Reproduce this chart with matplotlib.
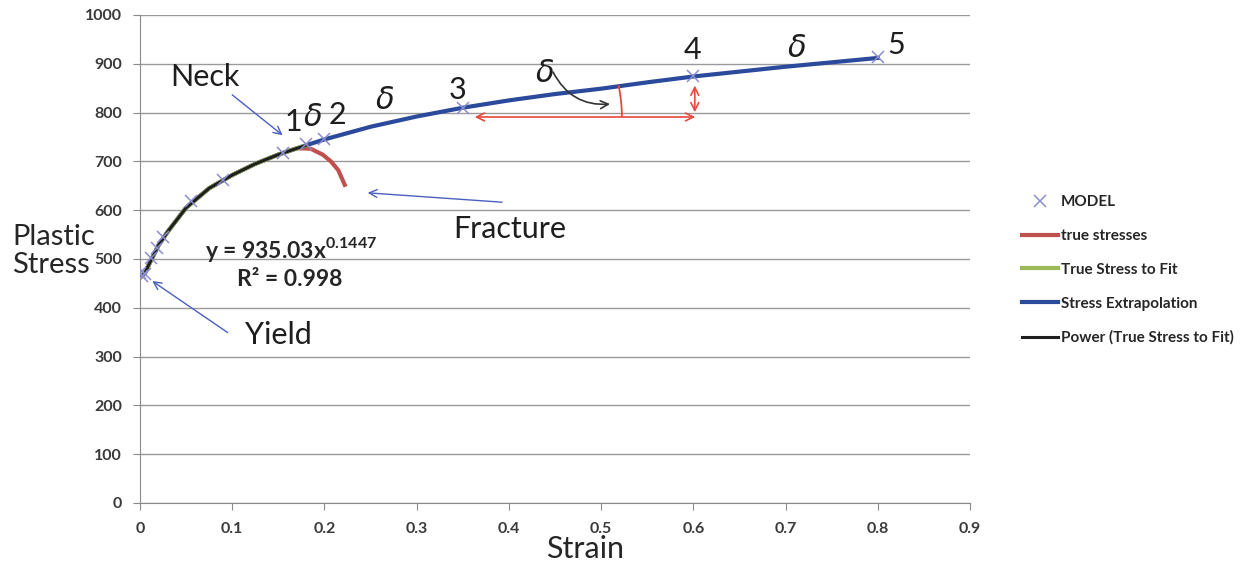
import matplotlib.pyplot as plt
from matplotlib.patches import Arc
from matplotlib.transforms import IdentityTransform

# values
model_strain = [0.0, 0.002, 0.005, 0.012, 0.018, 0.025, 0.055, 0.09, 0.155, 0.18, 0.2, 0.35, 0.6, 0.8]
model_stress = [472, 465, 470, 502, 522, 545, 618, 662, 717, 736, 746, 810, 874, 913]

true_strain = [0.001, 0.005, 0.01, 0.02, 0.03, 0.05, 0.075, 0.1, 0.125, 0.15, 0.17, 0.185, 0.198, 0.207, 0.215, 0.222]
true_stress = [463, 470, 490, 528, 556, 605, 645, 672, 695, 714, 727, 726, 714, 700, 682, 652]

fit_strain = [0.001, 0.005, 0.01, 0.02, 0.03, 0.05, 0.075, 0.1, 0.125, 0.15, 0.18]
fit_stress = [463, 470, 490, 528, 556, 605, 645, 672, 695, 714, 733]

extrap_strain = [0.0, 0.005, 0.01, 0.02, 0.03, 0.05, 0.075, 0.1, 0.125, 0.15, 0.18, 0.2, 0.25,
                 0.3, 0.35, 0.4, 0.45, 0.5, 0.55, 0.6, 0.65, 0.7, 0.75, 0.8]
extrap_stress = [465, 470, 490, 528, 556, 605, 645, 672, 695, 714, 733, 745, 771,
                 792, 810, 825, 838, 849, 862, 874, 884, 894, 903, 912]

power_strain = [0.002, 0.005, 0.01, 0.02, 0.03, 0.05, 0.075, 0.1, 0.125, 0.15, 0.18]
power_stress = [466, 470, 490, 528, 556, 605, 645, 672, 695, 714, 733]

x_ticks = [0, 0.1, 0.2, 0.3, 0.4, 0.5, 0.6, 0.7, 0.8, 0.9]
x_labels = ["0", "0.1", "0.2", "0.3", "0.4", "0.5", "0.6", "0.7", "0.8", "0.9"]
y_ticks = list(range(0, 1001, 100))

plt.rcParams['font.family'] = ['Lato', 'DejaVu Sans']
plt.rcParams['mathtext.fontset'] = 'custom'
plt.rcParams['mathtext.rm'] = 'Lato:bold'
plt.rcParams['mathtext.bf'] = 'Lato:bold'

fig = plt.figure(figsize=(12.53, 5.65), dpi=100)
ax = fig.add_axes([140 / 1253, 62 / 565, 830 / 1253, 488 / 565])

ax.plot(extrap_strain, extrap_stress, color='#2b4a9b', lw=3, zorder=3, label='Stress Extrapolation')
ax.plot(true_strain, true_stress, color='#c0504d', lw=3, zorder=2, label='true stresses')
ax.plot(fit_strain, fit_stress, color='#9bbb59', lw=3, zorder=4, label='True Stress to Fit')
ax.plot(power_strain, power_stress, color='#1e1e1e', lw=2.2, zorder=5, label='Power (True Stress to Fit)')
ax.plot(model_strain, model_stress, 'x', color='#8c8cd2', ms=9, mew=1.1, zorder=6, label='MODEL')

ax.set_xlim(0, 0.9)
ax.set_ylim(0, 1000)
ax.set_xticks(x_ticks)
ax.set_xticklabels(x_labels)
ax.set_yticks(y_ticks)
ax.yaxis.grid(True, color='#9a9a9a', lw=1)
ax.set_axisbelow(True)
for s in ['top', 'right']:
    ax.spines[s].set_visible(False)
ax.spines['left'].set_color('#8a8a8a')
ax.spines['bottom'].set_color('#8a8a8a')
ax.tick_params(axis='both', colors='#8a8a8a', labelcolor='#3a3a3a', labelsize=11.5, length=5)
ax.tick_params(axis='y', pad=8)
ax.tick_params(axis='x', pad=9)
for lab in ax.get_xticklabels() + ax.get_yticklabels():
    lab.set_fontweight('bold')
ax.set_xlabel('Strain', fontsize=22, color='#262626')
ax.xaxis.set_label_coords((585 - 140) / 830, -0.066)

fig.text(12 / 1253, 1 - 251 / 565, 'Plastic\nStress', fontsize=21, color='#262626',
         ha='left', va='center', linespacing=1.1)

# annotations
txt = dict(fontsize=22, color='#1e1e1e', ha='center', va='center')
dtxt = dict(fontsize=22, color='#1e1e1e', ha='center', va='center')
ax.text(0.0704, 873, 'Neck', **txt)
ax.text(0.166, 781, '1', **txt)
ax.text(0.1875, 791, r'$\delta$', **dtxt)
ax.text(0.2146, 795, '2', **txt)
ax.text(0.2656, 826, r'$\delta$', **dtxt)
ax.text(0.3447, 847, '3', **txt)
ax.text(0.439, 881, r'$\delta$', **dtxt)
ax.text(0.599, 928, '4', **txt)
ax.text(0.712, 932, r'$\delta$', **dtxt)
ax.text(0.82, 939, '5', **txt)
ax.text(0.401, 562, 'Fracture', **txt)
ax.text(0.1496, 344, 'Yield', **txt)

ax.text(0.0705, 519, r'y = 935.03x$^{0.1447}$', fontsize=16.5, fontweight='bold', color='#262626',
        ha='left', va='center')
ax.text(0.105, 458, 'R² = 0.998', fontsize=16.5, fontweight='bold', color='#262626',
        ha='left', va='center')

blue_arrow = dict(arrowstyle='->', color='#4a5fc0', lw=1, mutation_scale=14)
ax.annotate('', xy=(0.157, 750), xytext=(0.0976, 840), arrowprops=blue_arrow)
ax.annotate('', xy=(0.2439, 636), xytext=(0.3957, 616), arrowprops=blue_arrow)
ax.annotate('', xy=(0.0108, 458), xytext=(0.0976, 346), arrowprops=blue_arrow)

ax.annotate('', xy=(0.5127, 818), xytext=(0.4466, 888),
            arrowprops=dict(arrowstyle='->', color='#333333', lw=1.2, mutation_scale=14,
                            connectionstyle='arc3,rad=0.35'))

red_arrow = dict(arrowstyle='<->', color='#e8483a', lw=1.2, mutation_scale=14)
ax.annotate('', xy=(0.605, 791), xytext=(0.36, 791), arrowprops=red_arrow)
ax.annotate('', xy=(0.6016, 861), xytext=(0.6016, 795), arrowprops=red_arrow)
# angle arc, drawn in pixels around the start of the horizontal arrow
cx, cy = ax.transData.transform((0.3577, 791))
ax.add_patch(Arc((cx, cy), 304, 304, theta1=0, theta2=12, color='#e8483a', lw=1.3,
                 transform=IdentityTransform(), zorder=7))

# legend outside the axes on the right
handles, labels = ax.get_legend_handles_labels()
order = [4, 1, 2, 0, 3]
fig.legend([handles[i] for i in order], [labels[i] for i in order],
           loc='center left', bbox_to_anchor=(1008 / 1253, 1 - 270 / 565),
           frameon=False, labelspacing=1.3, handlelength=2.4,
           handletextpad=0.15, labelcolor='#262626', prop={'weight': 'bold', 'size': 11})

fig.savefig('out.png', dpi=100)
